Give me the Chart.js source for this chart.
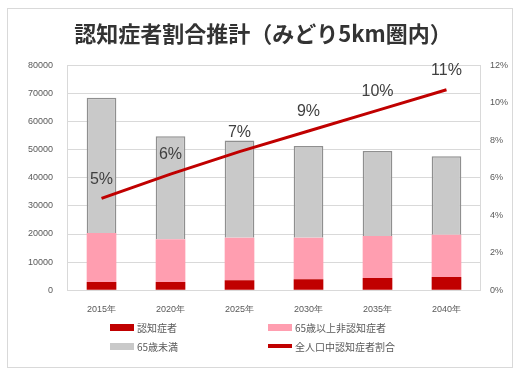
<!DOCTYPE html>
<html>
<head>
<meta charset="utf-8">
<script src="https://cdn.jsdelivr.net/npm/chart.js@4.4.1/dist/chart.umd.min.js"></script>
<style>
  body { margin: 0; background: #fff; }
  #wrap { position: relative; width: 513px; height: 369px; }
  #frame { position: absolute; left: 7px; top: 8px; width: 506px; height: 360px; border: 1px solid #d9d9d9; box-sizing: border-box; }
  #legend { position: absolute; left: 110px; top: 319px; display: grid; grid-template-columns: 158px 200px; row-gap: 3px;
    font: 10px "Noto Sans CJK JP", sans-serif; color: #595959; }
  .item { display: flex; align-items: center; height: 16px; }
  .sw { width: 24px; height: 7px; margin-right: 3px; }
</style>
</head>
<body>
<div id="wrap">
  <div id="frame"></div>
  <canvas id="results" width="513" height="369"></canvas>
  <div id="legend"></div>
</div>
<script>
// categories and values
let years = ['2015年', '2020年', '2025年', '2030年', '2035年', '2040年'];
let dementia = [2900, 2900, 3500, 3900, 4300, 4700];          // 認知症者
let over65Healthy = [17500, 15200, 15200, 14800, 15000, 15000]; // 65歳以上非認知症者
let under65 = [48100, 36700, 34600, 32600, 30200, 28000];      // 65歳未満
let ratio = [4.9, 6.2, 7.4, 8.5, 9.6, 10.7];                   // 全人口中認知症者割合 (%)

// draws the % labels above the line points
const ratioLabels = {
  id: 'ratioLabels',
  afterDatasetsDraw(chart) {
    let ctx = chart.ctx;
    let meta = chart.getDatasetMeta(3);
    ctx.save();
    ctx.font = '16px "Liberation Sans", sans-serif';
    ctx.fillStyle = '#404040';
    ctx.textAlign = 'center';
    ctx.textBaseline = 'middle';
    meta.data.forEach((pt, i) => {
      ctx.fillText(Math.round(ratio[i]) + '%', pt.x, pt.y - 19);
    });
    ctx.restore();
  }
};

let c = document.getElementById('results');
let context = c.getContext('2d');

let results = new Chart(context, {
  type: 'bar',
  data: {
    labels: years,
    datasets: [
      {
        label: '認知症者',
        data: dementia,
        backgroundColor: '#C00000',
        stack: 's',
        yAxisID: 'y',
        order: 2
      },
      {
        label: '65歳以上非認知症者',
        data: over65Healthy,
        backgroundColor: '#FF9EB0',
        stack: 's',
        yAxisID: 'y',
        order: 2
      },
      {
        label: '65歳未満',
        data: under65,
        backgroundColor: '#C9C9C9',
        borderColor: '#8f8f8f',
        borderWidth: 1.5,
        borderSkipped: 'bottom',
        stack: 's',
        yAxisID: 'y',
        order: 2
      },
      {
        type: 'line',
        label: '全人口中認知症者割合',
        data: ratio,
        borderColor: '#C00000',
        backgroundColor: '#C00000',
        borderWidth: 3,
        pointRadius: 0,
        tension: 0,
        yAxisID: 'y1',
        order: 1
      }
    ]
  },
  options: {
    responsive: false,
    animation: false,
    layout: { padding: { left: 14, right: 1, top: 10, bottom: 48 } },
    datasets: {
      bar: { barPercentage: 0.43, categoryPercentage: 1 }
    },
    plugins: {
      legend: { display: false },
      tooltip: { enabled: false },
      title: {
        display: true,
        text: '認知症者割合推計（みどり5km圏内）',
        font: { family: '"Noto Sans CJK JP", sans-serif', size: 22, weight: 'bold' },
        color: '#333333',
        padding: { top: 10, bottom: 19 }
      }
    },
    scales: {
      x: {
        stacked: true,
        grid: { display: false },
        border: { color: '#d9d9d9' },
        ticks: { color: '#595959', font: { family: '"Liberation Sans", sans-serif', size: 9 }, padding: 6 }
      },
      y: {
        stacked: true,
        min: 0,
        max: 80000,
        ticks: { stepSize: 10000, callback: v => String(v), color: '#595959', font: { family: '"Liberation Sans", sans-serif', size: 9 }, padding: 14 },
        grid: { color: '#d9d9d9', drawTicks: false },
        border: { display: true, color: '#d9d9d9' }
      },
      y1: {
        position: 'right',
        min: 0,
        max: 12,
        ticks: { stepSize: 2, callback: v => v + '%', color: '#595959', font: { family: '"Liberation Sans", sans-serif', size: 9 }, padding: 4 },
        grid: { display: false, drawTicks: true, tickLength: 5, tickColor: '#d9d9d9' },
        border: { display: true, color: '#d9d9d9' }
      }
    }
  },
  plugins: [ratioLabels]
});

// legend laid out in two columns like the original
let legendOrder = [0, 1, 2, 3];
let legendBox = document.getElementById('legend');
legendOrder.forEach(i => {
  let ds = results.data.datasets[i];
  let item = document.createElement('div');
  item.className = 'item';
  let sw = document.createElement('span');
  sw.className = 'sw';
  sw.style.background = ds.backgroundColor;
  if (ds.type === 'line') { sw.style.height = '4px'; }
  item.appendChild(sw);
  item.appendChild(document.createTextNode(ds.label));
  legendBox.appendChild(item);
});
</script>
</body>
</html>
